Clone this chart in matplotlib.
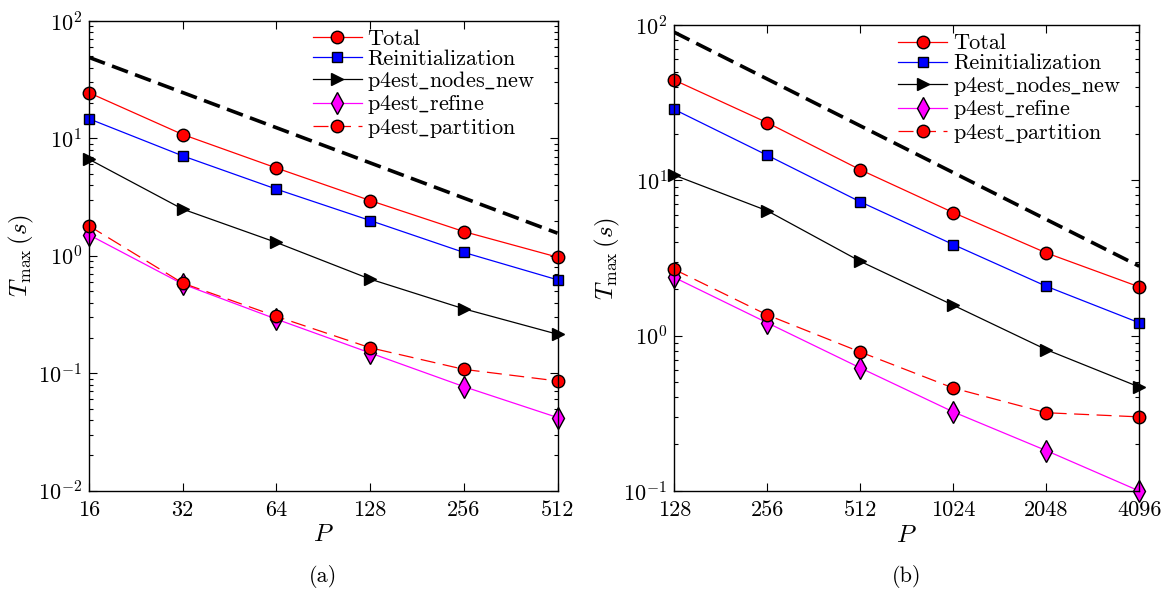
import numpy as np
import matplotlib
matplotlib.use('Agg')
import matplotlib.pyplot as plt
from matplotlib.ticker import FixedLocator, NullLocator, LogLocator, NullFormatter

plt.rcParams['font.family'] = 'serif'
plt.rcParams['font.serif'] = ['cmr10']
plt.rcParams['mathtext.fontset'] = 'cm'
plt.rcParams['axes.formatter.use_mathtext'] = True
plt.rcParams['axes.unicode_minus'] = False

# panel (a): 16 .. 512 processes
p_a = [16, 32, 64, 128, 256, 512]
total_a = [24.5, 10.8, 5.6, 2.96, 1.61, 0.975]
reinit_a = [14.7, 7.1, 3.7, 2.0, 1.07, 0.625]
nodes_a = [6.65, 2.5, 1.3, 0.634, 0.354, 0.215]
refine_a = [1.51, 0.575, 0.289, 0.149, 0.077, 0.042]
partition_a = [1.8, 0.586, 0.305, 0.165, 0.108, 0.086]
ideal_a = [49.0, 1.56]

# panel (b): 128 .. 4096 processes
p_b = [128, 256, 512, 1024, 2048, 4096]
total_b = [44.2, 23.5, 11.7, 6.2, 3.41, 2.06]
reinit_b = [28.6, 14.5, 7.27, 3.86, 2.08, 1.21]
nodes_b = [10.8, 6.37, 3.01, 1.57, 0.813, 0.467]
refine_b = [2.37, 1.21, 0.62, 0.323, 0.182, 0.1]
partition_b = [2.67, 1.36, 0.785, 0.46, 0.319, 0.30]
ideal_b = [89.8, 2.8]

labels = ['Total', 'Reinitialization', r'$\mathrm{p4est\_nodes\_new}$',
          r'$\mathrm{p4est\_refine}$', r'$\mathrm{p4est\_partition}$']

fig = plt.figure(figsize=(11.71, 5.95), dpi=100)
ax1 = fig.add_axes([0.0760, 0.1753, 0.4001, 0.7894])
ax2 = fig.add_axes([0.5758, 0.1748, 0.3971, 0.7832])

FS = 16


def draw(ax, p, total, reinit, nodes, refine, part, ideal, ylim, leg_anchor):
    # ideal scaling reference line
    ax.plot([p[0], p[-1]], ideal, 'k--', lw=2.6, dashes=(4.7, 2.1))
    ax.plot(p, total, '-', color='red', lw=0.9, marker='o', ms=9,
            mfc='red', mec='black', mew=1.0, label=labels[0], clip_on=False)
    ax.plot(p, reinit, '-', color='blue', lw=0.9, marker='s', ms=7,
            mfc='blue', mec='black', mew=1.0, label=labels[1], clip_on=False)
    ax.plot(p, nodes, '-', color='black', lw=0.9, marker='>', ms=9,
            mfc='black', mec='black', mew=1.0, label=labels[2], clip_on=False)
    ax.plot(p, refine, '-', color='magenta', lw=0.9, marker='d', ms=11,
            mfc='magenta', mec='black', mew=1.0, label=labels[3], clip_on=False)
    ax.plot(p, part, '--', color='red', lw=0.9, dashes=(12, 6), marker='o', ms=9,
            mfc='red', mec='black', mew=1.0, label=labels[4], clip_on=False)

    ax.set_xscale('log', base=2)
    ax.set_yscale('log')
    ax.set_xlim(p[0], p[-1])
    ax.set_ylim(*ylim)
    ax.xaxis.set_major_locator(FixedLocator(p))
    ax.set_xticklabels([str(v) for v in p])
    ax.xaxis.set_minor_locator(NullLocator())
    ax.yaxis.set_major_locator(LogLocator(base=10))
    ax.yaxis.set_minor_locator(LogLocator(base=10, subs=np.arange(2, 10)))
    ax.yaxis.set_minor_formatter(NullFormatter())
    ax.tick_params(which='both', direction='in', top=True, right=True,
                   labelsize=FS, width=0.8)
    ax.tick_params(which='major', length=6)
    ax.tick_params(which='minor', length=3)
    ax.tick_params(axis='x', pad=7)
    ax.tick_params(axis='y', pad=5)
    for s in ax.spines.values():
        s.set_linewidth(1.0)

    ax.set_xlabel(r'$P$', fontsize=FS + 2, labelpad=3)
    ax.set_ylabel(r'$T_{\max}\,(s)$', fontsize=FS + 2, labelpad=1)
    ax.legend(loc='upper left', bbox_to_anchor=leg_anchor, frameon=False,
              fontsize=FS, borderpad=0, borderaxespad=0, labelspacing=0.02,
              handlelength=2.2, handletextpad=0.25)


draw(ax1, p_a, total_a, reinit_a, nodes_a, refine_a, partition_a, ideal_a,
     (1e-2, 1e2), (0.478, 0.983))
draw(ax2, p_b, total_b, reinit_b, nodes_b, refine_b, partition_b, ideal_b,
     (1e-1, 1e2), (0.482, 0.981))

fig.text(323 / 1171, 1 - 577 / 595, '(a)', ha='center', va='center', fontsize=FS)
fig.text(907 / 1171, 1 - 577 / 595, '(b)', ha='center', va='center', fontsize=FS)

fig.savefig('out.png', dpi=100)
